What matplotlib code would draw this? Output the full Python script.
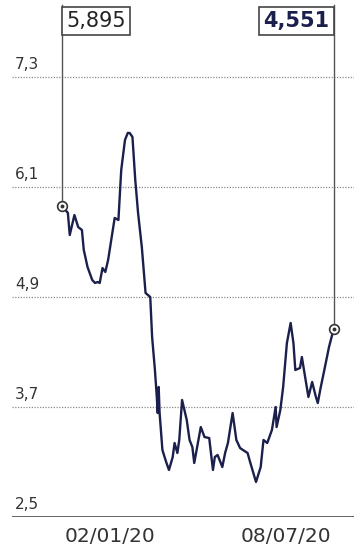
import matplotlib.pyplot as plt
import matplotlib.transforms as mtransforms
import pandas as pd

# days relative to 02/01/20 and closing values
days = [-51, -45, -43, -38, -34, -30, -28, -24, -19, -16, -13, -11, -8, -5, -5, -2,
        5, 9, 12, 16, 19, 21, 24, 27, 30, 34, 38, 43, 45, 48, 50, 51, 52, 53, 56, 60,
        63, 67, 69, 72, 74, 77, 82, 85, 88, 90, 97, 101, 106, 110, 112, 115, 120, 123,
        126, 131, 135, 139, 142, 147, 150, 156, 161, 164, 168, 173, 177, 178, 182,
        185, 189, 193, 196, 198, 203, 205, 209, 212, 216, 220, 222, 225, 229, 234, 239]
values = [5.895, 5.815, 5.575, 5.793, 5.662, 5.630, 5.412, 5.226, 5.085, 5.052, 5.063,
          5.052, 5.215, 5.172, 5.172, 5.303, 5.761, 5.739, 6.284, 6.611, 6.688, 6.688,
          6.644, 6.175, 5.815, 5.444, 4.943, 4.899, 4.463, 4.103, 3.809, 3.634, 3.918,
          3.634, 3.231, 3.100, 3.013, 3.154, 3.307, 3.198, 3.340, 3.776, 3.558, 3.340,
          3.263, 3.089, 3.481, 3.372, 3.361, 3.013, 3.154, 3.176, 3.045, 3.198, 3.307,
          3.634, 3.340, 3.252, 3.231, 3.198, 3.089, 2.882, 3.045, 3.340, 3.307, 3.449,
          3.700, 3.481, 3.667, 3.918, 4.397, 4.616, 4.397, 4.103, 4.125, 4.245, 3.994,
          3.809, 3.972, 3.809, 3.743, 3.907, 4.103, 4.354, 4.551]

y_ticks = [2.5, 3.7, 4.9, 6.1, 7.3]
y_labels = ["2,5", "3,7", "4,9", "6,1", "7,3"]
x_tick_dates = ["2020-01-02", "2020-07-08"]
x_tick_labels = ["02/01/20", "08/07/20"]
first_label = "5,895"
last_label = "4,551"

base = pd.Timestamp("2020-01-02")
dates = [base + pd.Timedelta(days=d) for d in days]

navy = "#1b1f4b"
grey = "#333333"

fig = plt.figure(figsize=(3.54, 5.54), dpi=100)
ax = fig.add_axes([12 / 354, 37 / 554, 342 / 354, 517 / 554])

ax.set_ylim(2.5, 2.5 + 517 / 91.7)
ax.set_xlim(base - pd.Timedelta(days=104.7), base + pd.Timedelta(days=260.7))

for s in ax.spines.values():
    s.set_visible(False)
ax.set_yticks([])
ax.set_xticks([pd.Timestamp(d) for d in x_tick_dates])
ax.set_xticklabels(x_tick_labels, fontsize=14.5, color=grey)
ax.tick_params(axis="x", length=0, pad=7)

# grid and baseline
for v, lab in zip(y_ticks, y_labels):
    if v == y_ticks[0]:
        ax.axhline(v, color="#555555", lw=2, zorder=1)
    else:
        ax.axhline(v, color="#8a8a8a", lw=0.9, ls=(0, (1, 1.2)), zorder=1)
    ax.annotate(lab, xy=(0, v), xycoords=("axes fraction", "data"),
                xytext=(3, 5), textcoords="offset pixels",
                fontsize=11, color=grey, ha="left", va="bottom")

ax.plot(dates, values, color=navy, lw=1.7, zorder=3, solid_joinstyle="round")

# end markers, leader lines and value boxes
ends = [(dates[0], values[0], first_label, "left", "normal", "#222222"),
        (dates[-1], values[-1], last_label, "right", "bold", navy)]
for d, v, lab, ha, weight, col in ends:
    ax.plot([d, d], [v, ax.get_ylim()[1] - 5 / 91.7], color="#555555", lw=1, zorder=2)
    ax.plot(d, v, "o", ms=7, mfc="white", mec="#333333", mew=1.2, zorder=4)
    ax.plot(d, v, "o", ms=1.8, color="#333333", zorder=5)
    dx = 4 if ha == "left" else -4
    ax.annotate(lab, xy=(d, 1), xycoords=("data", "axes fraction"),
                xytext=(dx, -11), textcoords="offset pixels",
                ha=ha, va="top", fontsize=15, fontweight=weight, color=col,
                bbox=dict(boxstyle="square,pad=0.2", fc="white", ec="#444444", lw=1.2),
                zorder=6)

fig.savefig("out.png", dpi=100)
